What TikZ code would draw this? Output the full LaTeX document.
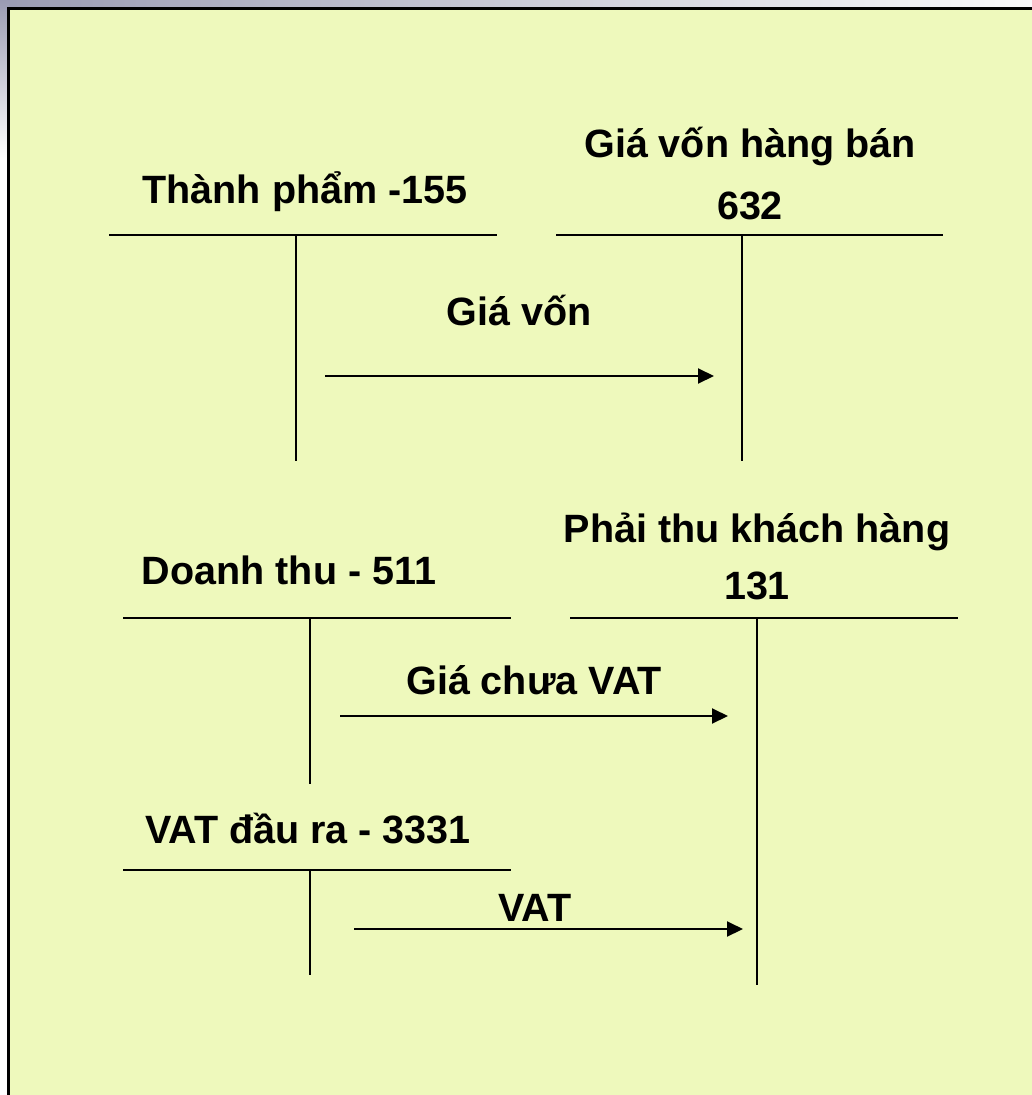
\documentclass[tikz,border=0pt]{standalone}
\usepackage{fontspec}
\setmainfont{Liberation Sans}
\usetikzlibrary{arrows.meta}
\definecolor{paper}{HTML}{EEF9BC}
\definecolor{slate}{HTML}{9A9BB3}
\begin{document}
\begin{tikzpicture}[x=1pt,y=-1pt,
  lbl/.style={font=\fontsize{39.5}{46}\selectfont\bfseries, inner sep=0pt, anchor=base},
  acct/.style={line width=2pt, black},
  flow/.style={line width=2pt, -{Triangle[length=16pt,width=15pt]}}]
\useasboundingbox (0,0) rectangle (1032,1095);
\fill[white] (0,0) rectangle (1032,1095);
\shade[left color=slate, right color=white!95!slate] (0,0) rectangle (1032,9);
\shade[top color=slate, bottom color=white] (0,0) rectangle (9,160);
\draw[line width=3pt, fill=paper] (8,8) rectangle (1045,1110);

% Account 155
\node[lbl] (t155) at (305,203) {Thành phẩm -155};
\coordinate (h155a) at (109,235); \coordinate (h155b) at (497,235);
\coordinate (v155a) at (296,235); \coordinate (v155b) at (296,461);
\draw[acct] (h155a) -- (h155b);
\draw[acct] (v155a) -- (v155b);

% Account 632
\node[lbl] (t632a) at (750,157) {Giá vốn hàng bán};
\node[lbl] (t632b) at (750,219) {632};
\coordinate (h632a) at (556,235); \coordinate (h632b) at (943,235);
\coordinate (v632a) at (742,235); \coordinate (v632b) at (742,461);
\draw[acct] (h632a) -- (h632b);
\draw[acct] (v632a) -- (v632b);

% Flow 1
\node[lbl] (l1) at (519,325) {Giá vốn};
\coordinate (a1s) at (325,376); \coordinate (a1e) at (714,376);
\draw[flow] (a1s) -- (a1e);

% Account 511
\node[lbl] (t511) at (289,584) {Doanh thu - 511};
\coordinate (h511a) at (123,618); \coordinate (h511b) at (511,618);
\coordinate (v511a) at (310,618); \coordinate (v511b) at (310,784);
\draw[acct] (h511a) -- (h511b);
\draw[acct] (v511a) -- (v511b);

% Account 131
\node[lbl] (t131a) at (757,542) {Phải thu khách hàng};
\node[lbl] (t131b) at (757,599) {131};
\coordinate (h131a) at (570,618); \coordinate (h131b) at (958,618);
\coordinate (v131a) at (757,618); \coordinate (v131b) at (757,985);
\draw[acct] (h131a) -- (h131b);
\draw[acct] (v131a) -- (v131b);

% Flow 2
\node[lbl] (l2) at (534,694) {Giá chưa VAT};
\coordinate (a2s) at (340,716); \coordinate (a2e) at (728,716);
\draw[flow] (a2s) -- (a2e);

% Account 3331
\node[lbl] (t3331) at (308,843) {VAT đầu ra - 3331};
\coordinate (h3331a) at (123,870); \coordinate (h3331b) at (511,870);
\coordinate (v3331a) at (310,870); \coordinate (v3331b) at (310,975);
\draw[acct] (h3331a) -- (h3331b);
\draw[acct] (v3331a) -- (v3331b);

% Flow 3
\node[lbl] (l3) at (535,921) {VAT};
\coordinate (a3s) at (354,929); \coordinate (a3e) at (743,929);
\draw[flow] (a3s) -- (a3e);
\end{tikzpicture}
\end{document}
